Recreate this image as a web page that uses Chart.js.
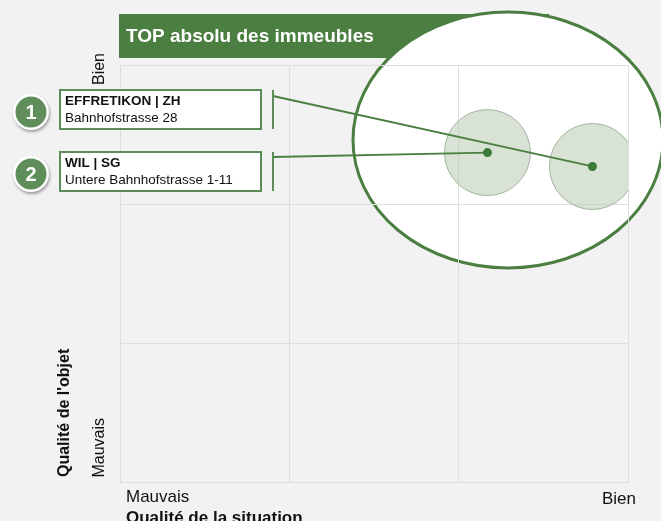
<!DOCTYPE html>
<html>
<head>
<meta charset="utf-8">
<script src="https://cdn.jsdelivr.net/npm/chart.js@4.4.1/dist/chart.umd.min.js"></script>
<style>
  html, body { margin: 0; padding: 0; background: #f2f2f2; }
  #wrap { width: 661px; height: 521px; position: relative; }
</style>
</head>
<body>
<div id="wrap"><canvas id="matrixChart" width="661" height="521"></canvas></div>
<script>
// Data
const buildings = ["EFFRETIKON | ZH", "WIL | SG"];
const addresses = ["Bahnhofstrasse 28", "Untere Bahnhofstrasse 1-11"];
const situationScores = [2.79, 2.17]; // x : Qualité de la situation
const objectScores = [2.27, 2.37];    // y : Qualité de l'objet
const scaleEnds = ["Mauvais", "Bien"];
const gridTicks = [0, 1, 2, 3];

const green = "#4b7f41";
const boxGreen = "#5c8c57";
const font = "'Liberation Sans', Arial, sans-serif";

const points = situationScores.map((x, i) => ({ x: x, y: objectScores[i] }));

// Background shapes: title bar + highlight ellipse
const backdrop = {
  id: "backdrop",
  beforeDraw(chart) {
    const ctx = chart.ctx;
    ctx.save();
    ctx.fillStyle = green;
    ctx.fillRect(119, 14, 430, 44);
    ctx.fillStyle = "#fff";
    ctx.font = "bold 19px " + font;
    ctx.textBaseline = "middle";
    ctx.fillText("TOP absolu des immeubles", 126, 37);

    ctx.beginPath();
    ctx.ellipse(508, 140, 155, 128, 0, 0, Math.PI * 2);
    ctx.fillStyle = "#ffffff";
    ctx.fill();
    ctx.lineWidth = 3;
    ctx.strokeStyle = green;
    ctx.stroke();
    ctx.restore();
  }
};

// Labels, connectors, axis texts
const annotations = {
  id: "annotations",
  afterDraw(chart) {
    const ctx = chart.ctx;
    const xs = chart.scales.x, ys = chart.scales.y;
    const area = chart.chartArea;
    const boxTops = [90, 152];
    ctx.save();

    buildings.forEach((name, i) => {
      const top = boxTops[i];
      // connector line to the data point
      const px = xs.getPixelForValue(situationScores[i]);
      const py = ys.getPixelForValue(objectScores[i]);
      ctx.strokeStyle = green;
      ctx.lineWidth = 1.8;
      ctx.beginPath();
      ctx.moveTo(273, top + (i === 0 ? 6 : 5));
      ctx.lineTo(px, py);
      ctx.stroke();
      // tick bar
      ctx.strokeStyle = boxGreen;
      ctx.lineWidth = 2;
      ctx.beginPath();
      ctx.moveTo(273, top);
      ctx.lineTo(273, top + 39);
      ctx.stroke();
      // box
      ctx.fillStyle = "#fff";
      ctx.fillRect(60, top, 201, 39);
      ctx.strokeRect(60, top, 201, 39);
      ctx.fillStyle = "#111";
      ctx.textBaseline = "middle";
      ctx.textAlign = "left";
      ctx.font = "bold 13.5px " + font;
      ctx.fillText(name, 65, top + 11);
      ctx.font = "13.5px " + font;
      ctx.fillText(addresses[i], 65, top + 28);
      // number badge
      const cy = top + 22;
      ctx.save();
      ctx.shadowColor = "rgba(0,0,0,0.35)";
      ctx.shadowBlur = 3;
      ctx.shadowOffsetX = 1;
      ctx.shadowOffsetY = 2;
      ctx.beginPath();
      ctx.arc(31, cy, 18, 0, Math.PI * 2);
      ctx.fillStyle = "#fff";
      ctx.fill();
      ctx.restore();
      ctx.beginPath();
      ctx.arc(31, cy, 15.5, 0, Math.PI * 2);
      ctx.fillStyle = "#5f8e5a";
      ctx.fill();
      ctx.fillStyle = "#fff";
      ctx.textAlign = "center";
      ctx.font = "bold 20px " + font;
      ctx.fillText(String(i + 1), 31, cy + 1);
    });

    // dots on top
    ctx.fillStyle = "#3d7a37";
    points.forEach(p => {
      ctx.beginPath();
      ctx.arc(xs.getPixelForValue(p.x), ys.getPixelForValue(p.y), 4.5, 0, Math.PI * 2);
      ctx.fill();
    });

    // axis end labels
    ctx.fillStyle = "#111";
    ctx.font = "17px " + font;
    ctx.textBaseline = "middle";
    ctx.textAlign = "left";
    ctx.fillText(scaleEnds[0], area.left + 6, 497);
    ctx.textAlign = "right";
    ctx.fillText(scaleEnds[1], 636, 499);
    ctx.font = "bold 17px " + font;
    ctx.textAlign = "left";
    ctx.fillText("Qualité de la situation", area.left + 6, 518);

    // rotated y labels
    ctx.save();
    ctx.translate(100, 0);
    ctx.rotate(-Math.PI / 2);
    ctx.font = "16px " + font;
    ctx.textAlign = "right";
    ctx.fillText(scaleEnds[1], -53, 0);
    ctx.fillText(scaleEnds[0], -418, 0);
    ctx.restore();
    ctx.save();
    ctx.translate(65, 0);
    ctx.rotate(-Math.PI / 2);
    ctx.font = "bold 16px " + font;
    ctx.textAlign = "left";
    ctx.fillText("Qualité de l'objet", -477, 0);
    ctx.restore();

    ctx.restore();
  }
};

const ctx = document.getElementById("matrixChart").getContext("2d");
new Chart(ctx, {
  type: "bubble",
  data: {
    labels: buildings,
    datasets: [
      {
        label: "Zone",
        data: points,
        radius: 43,
        backgroundColor: "rgba(184,204,180,0.55)",
        borderColor: "#a3b4a0",
        borderWidth: 1,
        hoverRadius: 0,
        clip: 0,
      },
    ],
  },
  options: {
    responsive: false,
    animation: false,
    events: [],
    layout: { autoPadding: false, padding: { left: 120, top: 65, right: 33, bottom: 39 } },
    plugins: {
      legend: { display: false },
      tooltip: { enabled: false },
    },
    scales: {
      x: {
        type: "linear",
        min: gridTicks[0],
        max: gridTicks[gridTicks.length - 1],
        afterBuildTicks: (s) => { s.ticks = gridTicks.map(v => ({ value: v })); },
        ticks: { display: false },
        grid: { color: "#dedede", drawTicks: false },
        border: { color: "#dedede" },
      },
      y: {
        type: "linear",
        min: gridTicks[0],
        max: gridTicks[gridTicks.length - 1],
        afterBuildTicks: (s) => { s.ticks = gridTicks.map(v => ({ value: v })); },
        ticks: { display: false },
        grid: { color: "#dedede", drawTicks: false },
        border: { color: "#dedede" },
      },
    },
  },
  plugins: [backdrop, annotations],
});
</script>
</body>
</html>
